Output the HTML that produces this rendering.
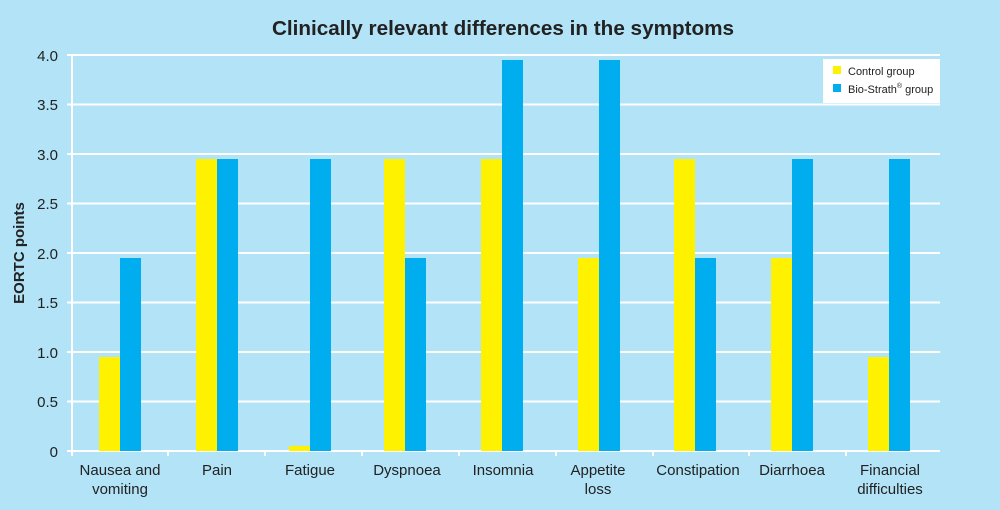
<!DOCTYPE html>
<html><head><style>
body{margin:0;background:#b3e3f7;}
svg{display:block;font-family:"Liberation Sans",sans-serif;}
</style></head><body>
<svg width="1000" height="510" viewBox="0 0 1000 510">
<rect width="1000" height="510" fill="#b3e3f7"/>
<text x="503" y="35" text-anchor="middle" font-size="20" font-weight="bold" fill="#222" textLength="462" lengthAdjust="spacingAndGlyphs">Clinically relevant differences in the symptoms</text>
<g stroke="#fff" stroke-width="2">
<line x1="67" y1="55" x2="940" y2="55"/>
<line x1="67" y1="104.5" x2="940" y2="104.5"/>
<line x1="67" y1="154" x2="940" y2="154"/>
<line x1="67" y1="203.5" x2="940" y2="203.5"/>
<line x1="67" y1="253" x2="940" y2="253"/>
<line x1="67" y1="302.5" x2="940" y2="302.5"/>
<line x1="67" y1="352" x2="940" y2="352"/>
<line x1="67" y1="401.5" x2="940" y2="401.5"/>
<line x1="67" y1="451" x2="940" y2="451"/>
<line x1="72" y1="55" x2="72" y2="456"/>
<line x1="168" y1="451" x2="168" y2="456"/><line x1="265" y1="451" x2="265" y2="456"/><line x1="362" y1="451" x2="362" y2="456"/><line x1="459" y1="451" x2="459" y2="456"/><line x1="556" y1="451" x2="556" y2="456"/><line x1="653" y1="451" x2="653" y2="456"/><line x1="749" y1="451" x2="749" y2="456"/><line x1="846" y1="451" x2="846" y2="456"/>
</g>
<g font-size="15" fill="#222" text-anchor="end">
<text x="58" y="61">4.0</text><text x="58" y="110">3.5</text><text x="58" y="160">3.0</text><text x="58" y="209">2.5</text><text x="58" y="259">2.0</text><text x="58" y="308">1.5</text><text x="58" y="358">1.0</text><text x="58" y="407">0.5</text><text x="58" y="457">0</text>
</g>
<text transform="translate(24,253) rotate(-90)" text-anchor="middle" font-size="15" font-weight="bold" fill="#222">EORTC points</text>
<g fill="#fff200">
<rect x="99" y="357" width="21" height="94"/>
<rect x="196" y="159" width="21" height="292"/>
<rect x="289" y="446" width="21" height="5"/>
<rect x="384" y="159" width="21" height="292"/>
<rect x="481" y="159" width="21" height="292"/>
<rect x="578" y="258" width="21" height="193"/>
<rect x="674" y="159" width="21" height="292"/>
<rect x="771" y="258" width="21" height="193"/>
<rect x="868" y="357" width="21" height="94"/>
</g>
<g fill="#00aeef">
<rect x="120" y="258" width="21" height="193"/>
<rect x="217" y="159" width="21" height="292"/>
<rect x="310" y="159" width="21" height="292"/>
<rect x="405" y="258" width="21" height="193"/>
<rect x="502" y="60" width="21" height="391"/>
<rect x="599" y="60" width="21" height="391"/>
<rect x="695" y="258" width="21" height="193"/>
<rect x="792" y="159" width="21" height="292"/>
<rect x="889" y="159" width="21" height="292"/>
</g>
<g font-size="15" fill="#222" text-anchor="middle">
<text x="120" y="475">Nausea and</text><text x="120" y="494">vomiting</text>
<text x="217" y="475">Pain</text>
<text x="310" y="475">Fatigue</text>
<text x="407" y="475">Dyspnoea</text>
<text x="503" y="475">Insomnia</text>
<text x="598" y="475">Appetite</text><text x="598" y="494">loss</text>
<text x="698" y="475">Constipation</text>
<text x="792" y="475">Diarrhoea</text>
<text x="890" y="475">Financial</text><text x="890" y="494">difficulties</text>
</g>
<rect x="823" y="59" width="117" height="44" fill="#fff"/>
<rect x="833" y="66" width="8" height="8" fill="#fff200"/>
<rect x="833" y="84" width="8" height="8" fill="#00aeef"/>
<text x="848" y="75" font-size="11" fill="#222">Control group</text>
<text x="848" y="93" font-size="11" fill="#222">Bio-Strath<tspan font-size="7" dy="-5">®</tspan><tspan dy="5"> group</tspan></text>
</svg>
</body></html>
